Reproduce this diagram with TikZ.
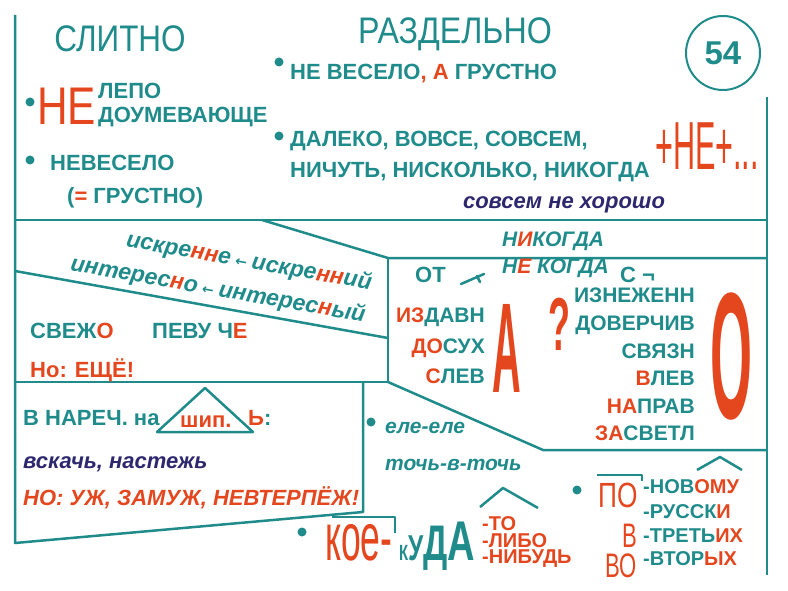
\documentclass[tikz,border=0pt]{standalone}
\usepackage{fontspec}
\setmainfont{Liberation Sans}
\newfontfamily\arrowfont{DejaVu Sans}
\usetikzlibrary{positioning}

\definecolor{sea}{RGB}{32,139,139}
\definecolor{brick}{RGB}{228,70,30}
\definecolor{ink}{RGB}{45,40,110}

\newcommand\rd[1]{\textcolor{brick}{#1}}
\newcommand\narrow[2]{\scalebox{#1}[1]{#2}}
\newcommand\larr{{\arrowfont\fontsize{14}{14}\selectfont\ ←\ }}

\tikzset{
  frame line/.style={draw=sea, line width=2.5pt, line join=round},
  word/.style={text=sea, font=\bfseries\fontsize{22}{24}\selectfont, inner sep=0pt, anchor=base west},
  small word/.style={word, font=\bfseries\fontsize{20}{22}\selectfont},
  list word/.style={word, font=\bfseries\fontsize{21}{24}\selectfont, anchor=base east},
  slant word/.style={word, font=\bfseries\itshape\fontsize{21}{24}\selectfont},
  title/.style={text=sea, font=\fontsize{37}{40}\selectfont, inner sep=0pt, anchor=base},
  big letter/.style={text=brick, inner sep=0pt, anchor=base},
  dot/.style={circle, fill=sea, inner sep=0pt, minimum size=9pt},
}

\begin{document}
\begin{tikzpicture}[x=1pt,y=-1pt]
\useasboundingbox (0,0) rectangle (788,591);

% frame of the table
\draw[frame line] (15,15) -- (15,543) -- (363,512) -- (363,382);
\draw[frame line] (767,97) -- (767,575);
\draw[frame line] (15,220) -- (767,220);
\draw[frame line] (262,220) -- (388,258) -- (767,258);
\draw[frame line] (15,271) -- (388,338);
\draw[frame line] (15,382) -- (388,382) -- (388,258);
\draw[frame line] (388,382) -- (543,450) -- (767,450);
\draw[frame line] (332,517) -- (395,517) -- (395,533); % over koe-

% headings
\node[title] (slitno) at (120,52) {\narrow{0.85}{СЛИТНО}};
\node[title] (razdelno) at (455,44) {\narrow{0.87}{РАЗДЕЛЬНО}};
\node[draw=sea, line width=2pt, circle, minimum size=74pt, inner sep=0pt,
      text=sea, font=\bfseries\fontsize{33}{36}\selectfont] (page) at (723,53) {54};

% together
\node[dot] (dot ne) at (30,102) {};
\node[big letter, anchor=base west, font=\fontsize{53}{56}\selectfont] (big ne) at (37,125) {\narrow{0.8}{НЕ}};
\node[word] (lepo) at (98,99) {ЛЕПО};
\node[word] (doum) at (98,123) {ДОУМЕВАЮЩЕ};
\node[dot] (dot nevesel) at (30,160) {};
\node[word] (nevesel) at (50,171) {НЕВЕСЕЛО};
\node[word] (grust) at (67,204) {(\rd{=} ГРУСТНО)};

% apart
\node[dot] (dot a) at (279,62) {};
\node[word] (ne a) at (290,80) {НЕ ВЕСЕЛО\rd{, А} ГРУСТНО};
\node[dot] (dot dal) at (279,136) {};
\node[word] (daleko) at (290,147) {ДАЛЕКО, ВОВСЕ, СОВСЕМ,};
\node[word] (nichut) at (290,178) {НИЧУТЬ, НИСКОЛЬКО, НИКОГДА};
\node[big letter, anchor=base west, font=\fontsize{68}{70}\selectfont] (plus ne) at (655,170) {\narrow{0.45}{+НЕ+...}};
\node[slant word, anchor=base, text=ink, font=\bfseries\itshape\fontsize{22}{24}\selectfont] (sovsem) at (564,209) {совсем не хорошо};

% nn and n
\node[slant word, anchor=center, rotate=-10, font=\bfseries\itshape\fontsize{23}{24}\selectfont] (iskr) at (249,262)
  {искре\rd{нн}е\larr искре\rd{нн}ий};
\node[slant word, anchor=center, rotate=-10, font=\bfseries\itshape\fontsize{23}{24}\selectfont] (inter) at (218,290)
  {интерес\rd{н}о\larr интерес\rd{н}ый};

% o after sibilants
\node[word] (svezho) at (30,338) {СВЕЖ\rd{О}};
\node[word] (pevuche) at (152,338) {ПЕВУ Ч\rd{Е}};
\node[word, text=brick] (esche) at (30,377) {Но: ЕЩЁ!};

% nikogda
\node[slant word] (nikogda) at (502,247) {Н\rd{И}КОГДА};
\node[slant word] (ne kogda) at (502,273) {Н\rd{Е} КОГДА};

% a and o at the end
\node[word] (ot) at (415,283) {ОТ};
\draw[sea, line width=2.5pt, line cap=round] (461,284) -- (484,274) (477,276) -- (480,282);
\node[word] (s) at (620,282) {С ¬};
\node[list word] (izdavn) at (485,322) {\rd{ИЗ}ДАВН};
\node[list word] (dosuh) at (485,353) {\rd{ДО}СУХ};
\node[list word] (slev) at (485,383) {\rd{С}ЛЕВ};
\node[big letter, font=\bfseries\fontsize{128}{130}\selectfont] (big a) at (507,392) {\narrow{0.31}{А}};
\node[big letter, font=\bfseries\fontsize{75}{78}\selectfont] (quest) at (559,350) {\narrow{0.48}{?}};
\node[list word] (iznezh) at (695,302) {ИЗНЕЖЕНН};
\node[list word] (doverch) at (695,330) {ДОВЕРЧИВ};
\node[list word] (svyazn) at (695,358) {СВЯЗН};
\node[list word] (vlev) at (695,385) {\rd{В}ЛЕВ};
\node[list word] (naprav) at (695,413) {\rd{НА}ПРАВ};
\node[list word] (zasvetl) at (695,440) {\rd{ЗА}СВЕТЛ};
\node[big letter, anchor=center, font=\bfseries\fontsize{180}{180}\selectfont] (big o) at (731,357) {\narrow{0.3}{О}};

% soft sign after sibilants
\node[word] (narech) at (23,425) {В НАРЕЧ. на};
\draw[frame line] (205,388) -- (157,432) -- (253,432) -- cycle;
\node[word, text=brick] (ship) at (180,427) {шип.};
\node[word] (myagk) at (248,425) {\rd{Ь}:};
\node[slant word, text=ink, font=\bfseries\itshape\fontsize{22}{24}\selectfont] (vskach) at (23,468) {вскачь, настежь};
\node[slant word, text=brick, font=\bfseries\itshape\fontsize{22}{24}\selectfont] (uzh) at (23,505) {НО: УЖ, ЗАМУЖ, НЕВТЕРПЁЖ!};

% hyphen
\node[dot] (dot ele) at (371,422) {};
\node[slant word] (ele) at (385,433) {еле-еле};
\node[slant word] (toch) at (385,470) {точь-в-точь};
\node[dot] (dot koe) at (302,532) {};
\node[big letter, anchor=base west, font=\fontsize{67}{70}\selectfont] (koe) at (325,560) {\narrow{0.53}{кое-}};
\node[word, anchor=base west] (kuda) at (399,560)
  {\narrow{0.68}{{\fontsize{22}{22}\selectfont К}{\fontsize{36}{36}\selectfont У}{\fontsize{50}{50}\selectfont Д}{\fontsize{56}{56}\selectfont А}}};
\draw[frame line] (480,507) -- (503,488) -- (538,508);
\node[small word, text=brick] (to) at (482,530) {-ТО};
\node[small word, text=brick] (libo) at (482,547) {-ЛИБО};
\node[small word, text=brick] (nibud) at (482,563) {-НИБУДЬ};

\node[dot] (dot po) at (577,490) {};
\draw[frame line] (597,475) -- (642,475) -- (642,481);
\node[big letter, anchor=base west, font=\fontsize{35}{36}\selectfont] (po) at (598,507) {\narrow{0.75}{ПО}};
\node[big letter, anchor=base west, font=\fontsize{34}{36}\selectfont] (v) at (622,547) {\narrow{0.65}{В}};
\node[big letter, anchor=base west, font=\fontsize{34}{36}\selectfont] (vo) at (605,577) {\narrow{0.65}{ВО}};
\draw[frame line] (697,470) -- (720,457) -- (742,470);
\node[small word] (novomu) at (643,493) {-НОВ\rd{ОМУ}};
\node[small word] (russki) at (643,518) {-РУССК\rd{И}};
\node[small word] (tretih) at (643,542) {-ТРЕТЬ\rd{ИХ}};
\node[small word] (vtoryh) at (643,565) {-ВТОР\rd{ЫХ}};
\end{tikzpicture}
\end{document}
